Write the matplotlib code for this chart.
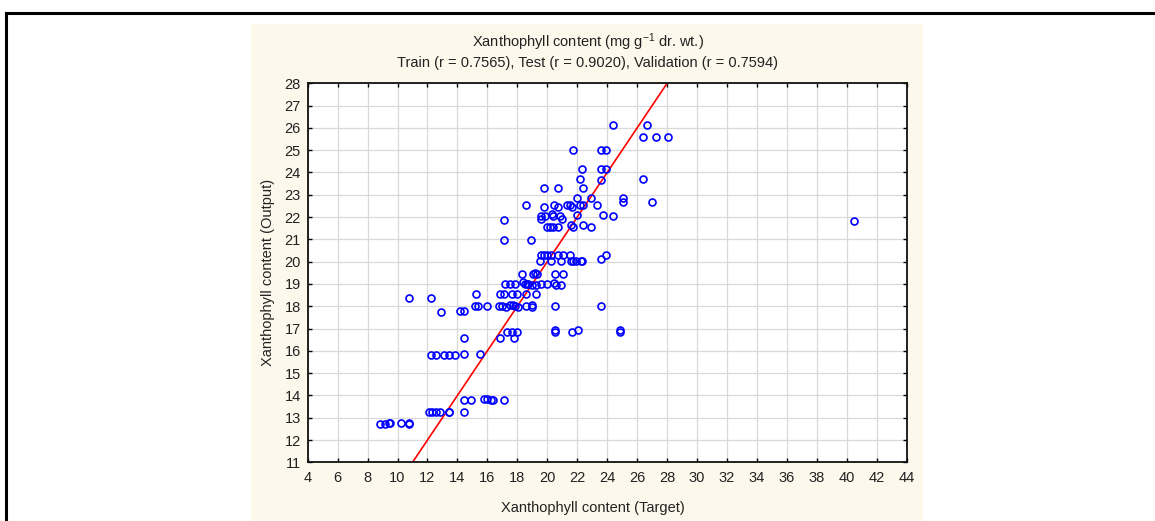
import matplotlib
matplotlib.use('Agg')
import matplotlib.pyplot as plt
from matplotlib.patches import Rectangle
from matplotlib.lines import Line2D

plt.rcParams['font.family'] = ['Liberation Sans', 'DejaVu Sans']
plt.rcParams['mathtext.default'] = 'regular'

# target (x) / output (y) pairs
target = [
    24.4, 26.65,
    26.37, 27.25, 28.08,
    21.7, 23.58, 23.9,
    22.3, 23.58, 23.9,
    22.2, 23.6, 26.37,
    19.8, 20.71, 22.38,
    22.0, 22.9, 25.07,
    25.07, 26.97,
    18.58, 20.47, 21.3, 21.52, 22.18, 22.4, 23.3,
    19.8, 20.7, 21.63,
    20.3, 22.0, 23.7,
    19.6, 19.85, 20.4, 20.85, 24.38,
    17.12, 19.6, 20.96,
    40.5,
    19.96, 20.18, 20.4, 20.7, 21.56, 21.74, 22.4, 22.9,
    17.12, 18.91,
    19.56, 19.78, 20.0, 20.22, 20.74, 21.02, 21.52, 23.9,
    23.6,
    19.51, 20.23, 20.9, 21.6, 21.7, 21.92, 22.23, 22.34,
    18.33, 19.02, 19.18, 19.3, 20.51, 21.03,
    17.2, 17.5, 17.85, 18.4, 18.5, 18.62, 18.73, 18.96, 19.27, 19.6, 20.0, 20.47, 20.6, 20.93,
    15.23, 16.82, 17.1, 17.62, 18.0, 18.6, 19.25,
    10.77, 12.25,
    15.18, 15.37, 15.94, 16.8, 17.0, 17.24, 17.5, 17.73, 17.84, 18.05, 18.58, 18.96, 18.96, 20.5, 23.6,
    12.9, 14.15, 14.46,
    17.3, 17.62, 17.96, 20.51, 20.51, 21.67, 22.03, 24.85, 24.85,
    14.44, 16.82, 17.8,
    12.23, 12.55, 13.12, 13.45, 13.86, 14.44, 15.53,
    14.44, 14.9, 15.8, 16.0, 16.22, 16.35, 17.1,
    12.12, 12.3, 12.55, 12.83, 13.42, 13.46, 14.44,
    8.83, 9.16, 9.43, 9.5, 10.25, 10.77, 10.79,
]
output = [
    26.14, 26.14,
    25.6, 25.6, 25.6,
    25.0, 25.0, 25.0,
    24.14, 24.14, 24.14,
    23.7, 23.68, 23.7,
    23.29, 23.29, 23.29,
    22.84, 22.84, 22.84,
    22.69, 22.69,
    22.54, 22.54, 22.54, 22.54, 22.54, 22.54, 22.54,
    22.44, 22.44, 22.44,
    22.13, 22.1, 22.1,
    22.05, 22.05, 22.05, 22.05, 22.03,
    21.87, 21.9, 21.9,
    21.83,
    21.57, 21.57, 21.57, 21.57, 21.63, 21.57, 21.63, 21.57,
    20.95, 20.95,
    20.3, 20.3, 20.3, 20.3, 20.3, 20.3, 20.3, 20.3,
    20.1,
    20.03, 20.03, 20.03, 20.03, 20.03, 20.05, 20.05, 20.05,
    19.43, 19.43, 19.5, 19.43, 19.43, 19.43,
    19.0, 19.0, 19.0, 19.1, 18.98, 18.98, 18.98, 18.96, 18.96, 18.98, 18.98, 19.05, 18.96, 18.96,
    18.57, 18.57, 18.57, 18.57, 18.57, 18.57, 18.57,
    18.37, 18.37,
    18.0, 18.0, 18.03, 18.03, 18.0, 17.97, 18.05, 18.05, 18.0, 17.97, 18.0, 18.07, 17.97, 18.03, 18.03,
    17.76, 17.78, 17.78,
    16.86, 16.86, 16.86, 16.93, 16.83, 16.86, 16.93, 16.93, 16.83,
    16.57, 16.57, 16.57,
    15.8, 15.8, 15.8, 15.8, 15.8, 15.85, 15.85,
    13.8, 13.8, 13.82, 13.84, 13.8, 13.8, 13.8,
    13.25, 13.25, 13.25, 13.25, 13.25, 13.25, 13.25,
    12.72, 12.72, 12.75, 12.78, 12.78, 12.72, 12.78,
]

x_ticks = list(range(4, 45, 2))
y_ticks = list(range(11, 29))
ideal_line = [4, 44]

fig = plt.figure(figsize=(11.55, 5.21), dpi=100)

# cream panel behind the plot and the black frame lines
fig.patches.append(Rectangle((251 / 1155, 0), 672 / 1155, 497 / 521,
                             transform=fig.transFigure, facecolor='#fdf8ec',
                             edgecolor='none', zorder=-2))
fig.lines.append(Line2D([6 / 1155, 1], [1 - 13 / 521, 1 - 13 / 521],
                        transform=fig.transFigure, color='black', lw=2.2))
fig.lines.append(Line2D([6 / 1155, 6 / 1155], [0, 1 - 13 / 521],
                        transform=fig.transFigure, color='black', lw=2.2))

ax = fig.add_axes([307.7 / 1155, 1 - 462.3 / 521, 599 / 1155, 379 / 521])
ax.set_facecolor('white')

ax.plot(ideal_line, ideal_line, color='red', lw=1.2, zorder=2)
ax.plot(target, output, linestyle='none', marker='o', markersize=5,
        markerfacecolor='none', markeredgecolor='blue', markeredgewidth=1.2,
        zorder=3, clip_on=False)

ax.set_xlim(4, 44)
ax.set_ylim(11, 28)
ax.set_xticks(x_ticks)
ax.set_yticks(y_ticks)
ax.grid(True, color='#d9d9d9', lw=0.9)
ax.set_axisbelow(True)
ax.tick_params(direction='in', length=3, width=1, top=True, right=True,
               labelsize=10.5, labelcolor='#222222', pad=6)
ax.tick_params(axis='y', pad=5)
for s in ax.spines.values():
    s.set_linewidth(1.3)
    s.set_color('#111111')

fs = 10.5
cx = 588 / 1155
fig.text(cx, 1 - 42 / 521, 'Xanthophyll content (mg g$^{-1}$ dr. wt.)',
         ha='center', va='center', fontsize=fs, color='#222222')
fig.text(cx, 1 - 63 / 521,
         'Train (r = 0.7565), Test (r = 0.9020), Validation (r = 0.7594)',
         ha='center', va='center', fontsize=fs, color='#222222')
fig.text(593 / 1155, 1 - 508 / 521, 'Xanthophyll content (Target)',
         ha='center', va='center', fontsize=fs, color='#222222')
fig.text(268 / 1155, 1 - 272 / 521, 'Xanthophyll content (Output)',
         ha='center', va='center', rotation=90, fontsize=fs, color='#222222')

fig.savefig('out.png', dpi=100, facecolor='white')
